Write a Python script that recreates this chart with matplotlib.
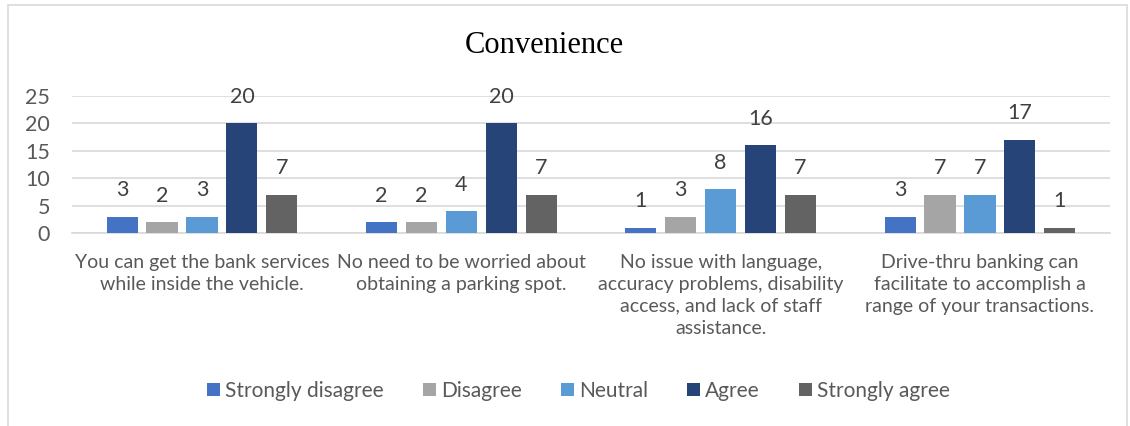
import numpy as np
import matplotlib
matplotlib.use("Agg")
import matplotlib.pyplot as plt
from matplotlib.patches import Rectangle

# survey answers per statement
categories = [
    "You can get the bank services\nwhile inside the vehicle.",
    "No need to be worried about\nobtaining a parking spot.",
    "No issue with language,\naccuracy problems, disability\naccess, and lack of staff\nassistance.",
    "Drive-thru banking can\nfacilitate to accomplish a\nrange of your transactions.",
]
series_names = ["Strongly disagree", "Disagree", "Neutral", "Agree", "Strongly agree"]
strongly_disagree = [3, 2, 1, 3]
disagree = [2, 2, 3, 7]
neutral = [3, 4, 8, 7]
agree = [20, 20, 16, 17]
strongly_agree = [7, 7, 7, 1]
colors = ["#4472C4", "#A5A5A5", "#5B9BD5", "#264478", "#636363"]

plt.rcParams["font.family"] = ["Lato", "DejaVu Sans"]
text_color = "#595959"

fig = plt.figure(figsize=(11.3, 4.26), dpi=100)
ax = fig.add_axes([0.064, 0.453, 0.918, 0.322])

# chart border
fig.patches.append(Rectangle((0.007, -0.1), 0.99, 1.088, transform=fig.transFigure,
                             fill=False, edgecolor="#D9D9D9", linewidth=1.2))

x = np.arange(len(categories))
width = 0.12
step = 0.154
all_values = [strongly_disagree, disagree, neutral, agree, strongly_agree]
for i, (name, vals, c) in enumerate(zip(series_names, all_values, colors)):
    pos = x + (i - 2) * step
    bars = ax.bar(pos, vals, width, color=c, label=name, zorder=3)
    for b, v in zip(bars, vals):
        ax.annotate(str(v), (b.get_x() + b.get_width() / 2, v), xytext=(0, 19),
                    textcoords="offset points", ha="center", va="center",
                    fontsize=15.5, color="#404040")

ax.set_xlim(-0.5, len(categories) - 0.5)
ax.set_ylim(0, 25)
ax.set_yticks(range(0, 26, 5))
ax.yaxis.grid(True, color="#D9D9D9", linewidth=1.2, zorder=0)
ax.tick_params(axis="y", length=0, labelsize=15.5, labelcolor=text_color, pad=16)
ax.tick_params(axis="x", length=0, labelsize=14, labelcolor=text_color, pad=15)
ax.set_xticks(x)
ax.set_xticklabels(categories, linespacing=1.35, va="top")
for s in ["top", "right", "left"]:
    ax.spines[s].set_visible(False)
ax.spines["bottom"].set_color("#D9D9D9")
ax.spines["bottom"].set_linewidth(1.2)

fig.text(0.482, 0.893, "Convenience", ha="center", va="center",
         fontsize=22, family="Liberation Serif", color="black")

handles, labels = ax.get_legend_handles_labels()
fig.legend(handles, labels, loc="center", bbox_to_anchor=(0.512, 0.082), ncol=5,
           frameon=False, fontsize=15, handlelength=0.6, handleheight=0.6,
           handletextpad=0.25, columnspacing=1.9, labelcolor=text_color)

fig.savefig("out.png", dpi=100)
